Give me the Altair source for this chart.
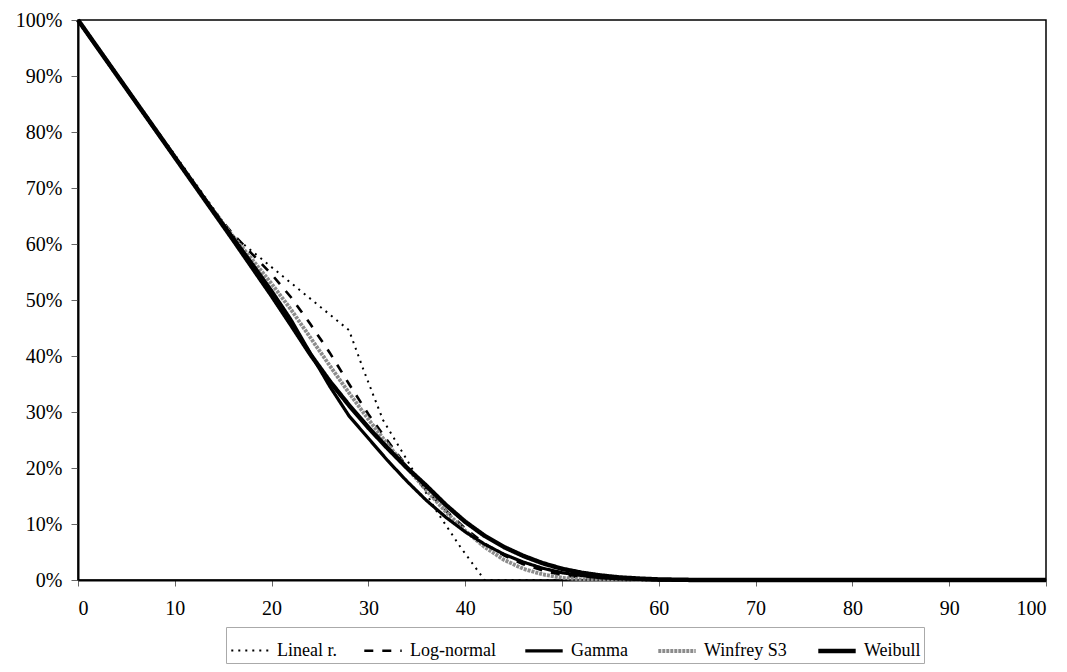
import altair as alt
import pandas as pd

series_names = ["Lineal r.", "Log-normal", "Gamma", "Winfrey S3", "Weibull"]

years = [0, 2, 4, 6, 8, 10, 12, 14, 16, 18, 20, 22, 24, 26, 28, 30, 32, 34, 36, 38,
         40, 42, 44, 46, 48, 50, 52, 54, 56, 58, 60, 62, 64, 100]

weibull = [100, 95.1, 90.2, 85.3, 80.4, 75.5, 70.6, 65.7, 60.8, 55.8, 50.8, 45.6, 40.3,
           35.5, 31.2, 27.2, 23.5, 20.0, 16.8, 13.4, 10.4, 7.9, 5.9, 4.3, 3.0, 2.0, 1.3,
           0.8, 0.45, 0.25, 0.1, 0.05, 0, 0]
gamma = [100, 95.1, 90.2, 85.3, 80.4, 75.5, 70.7, 65.9, 61.2, 56.5, 51.7, 46.5, 40.5,
         34.6, 29.3, 25.3, 21.3, 17.6, 14.2, 11.2, 8.6, 6.4, 4.6, 3.2, 2.1, 1.3, 0.8,
         0.4, 0.2, 0.1, 0, 0, 0, 0]
lognormal = [100, 95.1, 90.2, 85.3, 80.4, 75.5, 70.7, 66.0, 61.8, 58.2, 54.6, 50.5, 45.7,
             40.6, 35.0, 29.6, 24.8, 20.2, 16.0, 12.4, 9.2, 6.5, 4.4, 2.8, 1.7, 0.9, 0.4,
             0.15, 0, 0, 0, 0, 0, 0]
winfrey = [100, 95.1, 90.2, 85.3, 80.4, 75.5, 70.7, 65.9, 61.4, 57.2, 52.9, 48.3, 43.3,
           38.3, 33.4, 28.7, 24.2, 20.0, 16.0, 12.2, 8.8, 5.9, 3.6, 2.0, 1.0, 0.4, 0.1,
           0, 0, 0, 0, 0, 0, 0]

lineal_x = [0, 16, 28, 29.5, 31.5, 34, 37, 39.5, 42, 100]
lineal_y = [100, 61.5, 44.6, 37.5, 28.6, 21.4, 12.4, 5.9, 0, 0]

rows = []
for x, y in zip(lineal_x, lineal_y):
    rows.append({"series": "Lineal r.", "x": x, "y": y})
for name, vals in [("Log-normal", lognormal), ("Winfrey S3", winfrey),
                   ("Gamma", gamma), ("Weibull", weibull)]:
    for x, y in zip(years, vals):
        rows.append({"series": name, "x": x, "y": y})
df = pd.DataFrame(rows)

color_scale = alt.Scale(domain=series_names,
                        range=["#000000", "#000000", "#000000", "#8c8c8c", "#000000"])
dash_scale = alt.Scale(domain=series_names,
                       range=[[2, 5], [9, 9], [1, 0], [3, 1], [1, 0]])
width_scale = alt.Scale(domain=series_names, range=[2, 4.5, 1.4, 3, 4.5])

legend = alt.Legend(title=None, orient="none", legendX=148, legendY=607,
                    direction="horizontal", columns=5, symbolType="stroke",
                    symbolSize=1400, labelFontSize=18, labelFont="Liberation Serif",
                    labelColor="#000000", columnPadding=22, labelOffset=6,
                    padding=3, strokeColor="#aaaaaa")

x_enc = alt.X("x:Q", scale=alt.Scale(domain=[0, 100], nice=False),
              axis=alt.Axis(values=[0, 10, 20, 30, 40, 50, 60, 70, 80, 90, 100],
                            title=None, grid=False, tickSize=6, labelPadding=12,
                            labelFontSize=20, labelFont="Liberation Serif",
                            labelColor="#000000", domainColor="#000000",
                            domainWidth=2, tickColor="#666666"))
y_enc = alt.Y("y:Q", scale=alt.Scale(domain=[0, 100], nice=False),
              axis=alt.Axis(values=[0, 10, 20, 30, 40, 50, 60, 70, 80, 90, 100],
                            labelExpr="datum.value + '%'",
                            title=None, grid=False, tickSize=7, labelPadding=9,
                            labelFontSize=20, labelFont="Liberation Serif",
                            labelColor="#000000", domainColor="#000000",
                            domainWidth=2, tickColor="#666666"))

layers = []
for name in ["Lineal r.", "Log-normal", "Winfrey S3", "Gamma", "Weibull"]:
    layers.append(
        alt.Chart(df).transform_filter(alt.datum.series == name)
        .mark_line(strokeCap="butt")
        .encode(
            x=x_enc, y=y_enc,
            color=alt.Color("series:N", scale=color_scale, legend=legend),
            strokeDash=alt.StrokeDash("series:N", scale=dash_scale, legend=legend),
            strokeWidth=alt.StrokeWidth("series:N", scale=width_scale, legend=legend),
            order=alt.Order("x:Q"),
        )
    )

chart = alt.layer(*layers).properties(
    width=968, height=560,
    autosize=alt.AutoSizeParams(type="none"),
    padding={"left": 78, "top": 20, "right": 21, "bottom": 92},
    background="#ffffff",
).configure_view(stroke="#000000", strokeWidth=1.5)

chart.save("out.html", embed_options={"renderer": "svg", "actions": False})
